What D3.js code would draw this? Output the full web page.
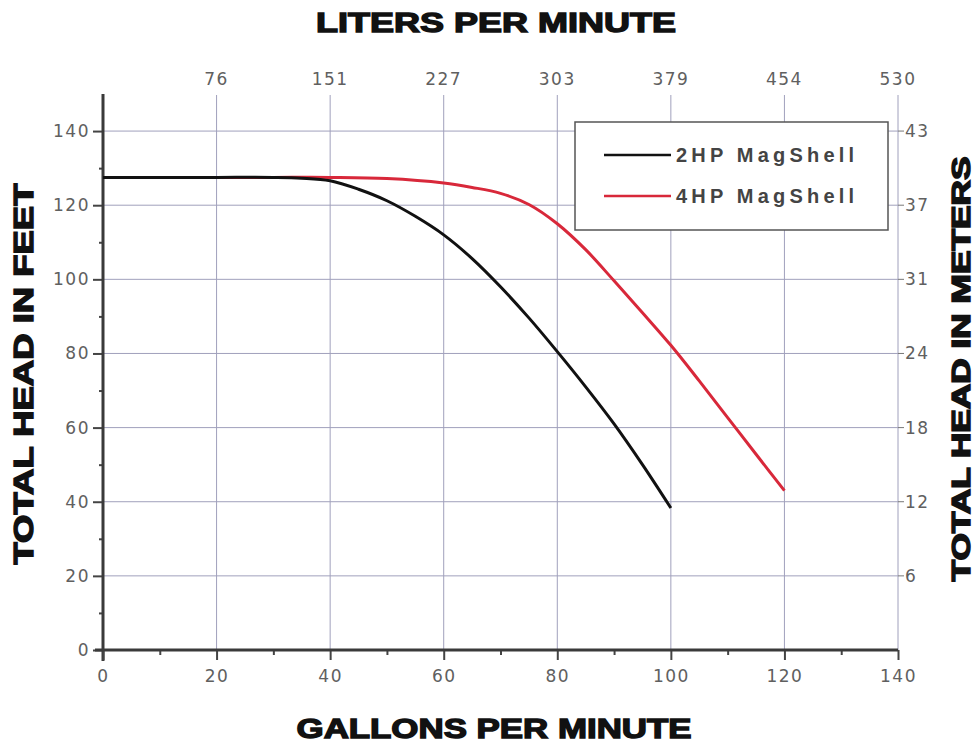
<!DOCTYPE html>
<html><head><meta charset="utf-8">
<script src="https://cdn.jsdelivr.net/npm/d3@7"></script>
<style>body{margin:0;background:#fff;}</style>
</head><body>
<svg id="c" width="978" height="745"></svg>
<script>
const gpmTicks = [0,20,40,60,80,100,120,140];
const lpmLabels = ["76","151","227","303","379","454","530"]; // at 20..140 GPM
const feetTicks = [0,20,40,60,80,100,120,140];
const meterLabels = ["6","12","18","24","31","37","43"]; // at 20..140 ft
const series2HP_x = [0,10,20,30,35,40,45,50,55,60,65,70,75,80,85,90,95,100];
const series2HP_y = [127.5,127.5,127.5,127.5,127.3,126.6,124.3,121.2,117,112,105.6,98,89.6,80.5,71,61,50,38.3];
const series4HP_x = [0,10,20,30,40,50,60,65,70,75,80,85,90,95,100,105,110,115,120];
const series4HP_y = [127.5,127.5,127.5,127.5,127.5,127.2,126,124.8,123.2,120.2,115,108,99.6,91,82.2,72.6,62.7,52.8,43];
const seriesNames = ["2HP MagShell","4HP MagShell"];
const seriesColors = ["#111","#d8283a"];

const svg = d3.select("#c");
const x = d3.scaleLinear().domain([0,140]).range([103,898]);
const y = d3.scaleLinear().domain([0,150]).range([650,94]);
const grid = "#a0a0bc";
const tickFont = "DejaVu Sans";
const tickSize = 17, tickFill = "#606060", tickLS = 1.5;

// grid verticals
svg.append("g").selectAll("line").data(gpmTicks.slice(1)).join("line")
  .attr("x1",d=>x(d)).attr("x2",d=>x(d)).attr("y1",95).attr("y2",650)
  .attr("stroke",grid).attr("stroke-width",1);
// grid horizontals
svg.append("g").selectAll("line").data(feetTicks.slice(1)).join("line")
  .attr("x1",x(0)).attr("x2",x(140)).attr("y1",d=>y(d)).attr("y2",d=>y(d))
  .attr("stroke",grid).attr("stroke-width",1);

// left axis
const left = svg.append("g").attr("transform",`translate(${x(0)},0)`)
  .call(d3.axisLeft(y).tickValues(feetTicks).tickSize(10).tickPadding(3));
left.select(".domain").remove();
left.selectAll(".tick line").attr("stroke","#444").attr("stroke-width",2);
left.selectAll(".tick text").attr("font-family",tickFont).attr("font-size",tickSize).attr("fill",tickFill).attr("letter-spacing",tickLS);
svg.append("g").attr("transform",`translate(${x(0)},0)`)
  .call(d3.axisLeft(y).tickValues(d3.range(10,150,20)).tickSize(4).tickFormat(""))
  .call(g=>g.select(".domain").remove())
  .selectAll(".tick line").attr("stroke","#444").attr("stroke-width",2);
svg.append("line").attr("x1",x(0)).attr("x2",x(0)).attr("y1",94).attr("y2",661)
  .attr("stroke","#3a3a3a").attr("stroke-width",3);

// bottom axis
const bottom = svg.append("g").attr("transform",`translate(0,${y(0)})`)
  .call(d3.axisBottom(x).tickValues(gpmTicks).tickSize(10).tickPadding(10));
bottom.select(".domain").remove();
bottom.selectAll(".tick line").attr("stroke","#444").attr("stroke-width",2);
bottom.selectAll(".tick text").attr("font-family",tickFont).attr("font-size",tickSize).attr("fill",tickFill).attr("letter-spacing",tickLS);
svg.append("g").attr("transform",`translate(0,${y(0)})`)
  .call(d3.axisBottom(x).tickValues(d3.range(10,140,20)).tickSize(5).tickFormat(""))
  .call(g=>g.select(".domain").remove())
  .selectAll(".tick line").attr("stroke","#444").attr("stroke-width",2);
svg.append("line").attr("x1",x(0)-8).attr("x2",x(140)).attr("y1",y(0)).attr("y2",y(0))
  .attr("stroke","#3a3a3a").attr("stroke-width",3);

// top labels (liters)
svg.append("g").selectAll("text").data(lpmLabels).join("text")
  .attr("x",(d,i)=>x(gpmTicks[i+1])).attr("y",85).attr("text-anchor","middle")
  .attr("font-family",tickFont).attr("font-size",tickSize).attr("fill",tickFill).attr("letter-spacing",tickLS).text(d=>d);

// right labels (meters)
const rg = svg.append("g").selectAll("g").data(meterLabels).join("g")
  .attr("transform",(d,i)=>`translate(${x(140)},${y(feetTicks[i+1])})`);
rg.append("line").attr("x1",0).attr("x2",6).attr("stroke","#777").attr("stroke-width",1);
rg.append("text").attr("x",7).attr("dy","0.35em").attr("font-family",tickFont)
  .attr("font-size",tickSize).attr("fill",tickFill).attr("letter-spacing",tickLS).text(d=>d);

// series
const line = d3.line().x(d=>x(d[0])).y(d=>y(d[1])).curve(d3.curveCatmullRom.alpha(0.5));
const data = [d3.zip(series2HP_x,series2HP_y), d3.zip(series4HP_x,series4HP_y)];
svg.append("path").datum(data[1]).attr("d",line).attr("fill","none")
  .attr("stroke",seriesColors[1]).attr("stroke-width",3);
svg.append("path").datum(data[0]).attr("d",line).attr("fill","none")
  .attr("stroke",seriesColors[0]).attr("stroke-width",3);

// legend
const lg = svg.append("g");
lg.append("rect").attr("x",575).attr("y",122).attr("width",313).attr("height",108)
  .attr("fill","#fff").attr("stroke","#555").attr("stroke-width",1.5);
seriesNames.forEach((n,i)=>{
  const yy = 155 + i*41;
  lg.append("line").attr("x1",604).attr("x2",671).attr("y1",yy).attr("y2",yy)
    .attr("stroke",seriesColors[i]).attr("stroke-width",2.5);
  lg.append("text").attr("x",676).attr("y",yy).attr("dy","0.36em")
    .attr("font-family","Liberation Sans").attr("font-weight","bold").attr("font-size",20)
    .attr("textLength",178).attr("lengthAdjust","spacing").attr("fill","#444").text(n);
});

// titles
const tf = "Liberation Sans";
function title(t, tr, len, fs){
  svg.append("text").attr("transform",tr).attr("text-anchor","middle")
    .attr("font-family",tf).attr("font-weight","bold").attr("font-size",fs)
    .attr("fill","#111").attr("stroke","#111").attr("stroke-width",1.4)
    .attr("textLength",len).attr("lengthAdjust","spacingAndGlyphs").text(t);
}
title("LITERS PER MINUTE","translate(496,32)",360,28);
title("GALLONS PER MINUTE","translate(494,738)",395,28);
title("TOTAL HEAD IN FEET","translate(33,374) rotate(-90)",381,28);
title("TOTAL HEAD IN METERS","translate(970,369) rotate(-90)",425,25);
</script>
</body></html>
